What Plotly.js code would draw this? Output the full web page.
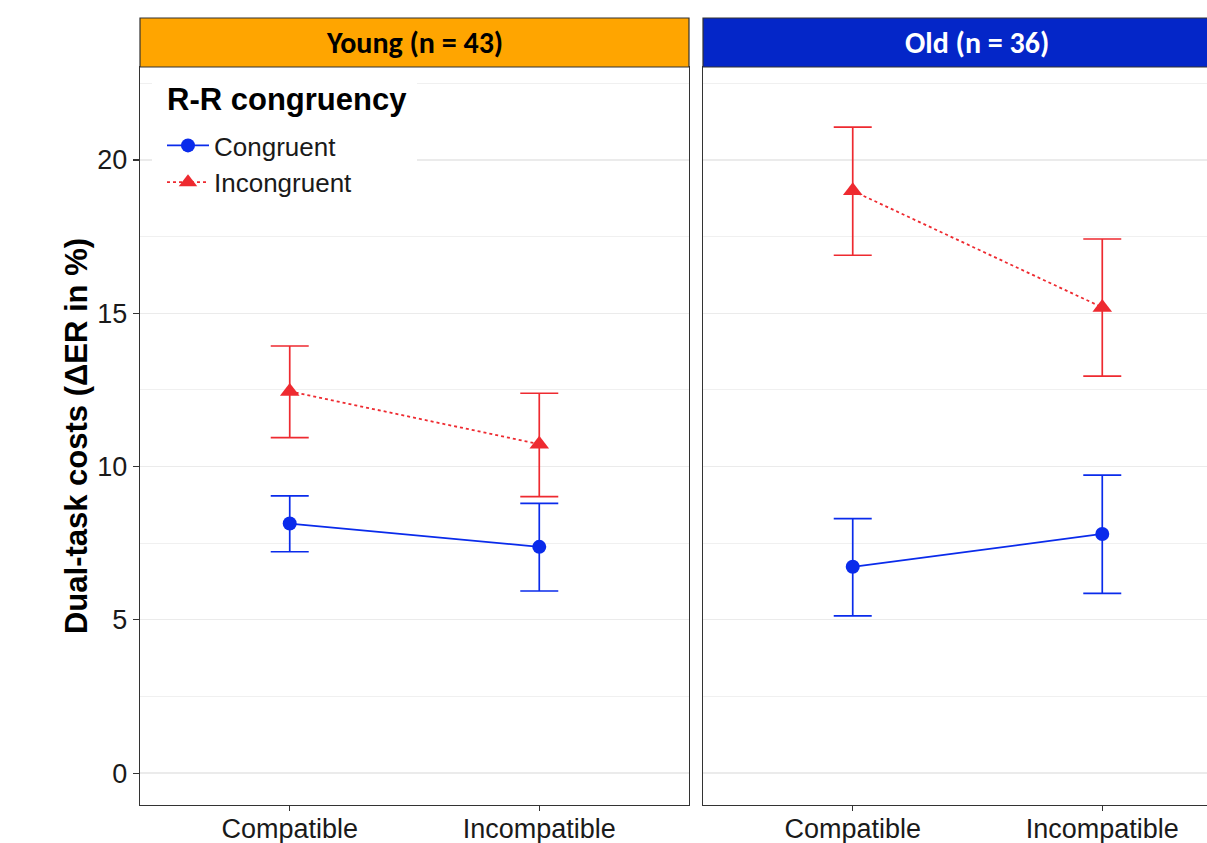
<!DOCTYPE html>
<html>
<head>
<meta charset="utf-8">
<script src="https://cdn.plot.ly/plotly-3.0.1.min.js"></script>
<style>
html,body{margin:0;padding:0;overflow:hidden;background:#fff;}
#chart{width:1260px;height:843px;}
</style>
</head>
<body>
<div id="chart"></div>
<script>
// ---- data ----
const categories = ["Compatible", "Incompatible"];
const groups = ["Young (n = 43)", "Old (n = 36)"];
const seriesNames = ["Congruent", "Incongruent"];
const legendTitle = "R-R congruency";

const youngCongruent = [8.14, 7.38];
const youngCongruentLo = [7.22, 5.94];
const youngCongruentHi = [9.04, 8.80];

const youngIncongruent = [12.45, 10.73];
const youngIncongruentLo = [10.94, 9.02];
const youngIncongruentHi = [13.93, 12.39];

const oldCongruent = [6.73, 7.80];
const oldCongruentLo = [5.13, 5.86];
const oldCongruentHi = [8.30, 9.72];

const oldIncongruent = [18.99, 15.19];
const oldIncongruentLo = [16.89, 12.95];
const oldIncongruentHi = [21.07, 17.42];

const yTicks = [0, 5, 10, 15, 20];

// ---- styles ----
const BLUE = "#0A2BEB";
const RED = "#EE2A30";
const FONT = "Liberation Sans, Arial, sans-serif";

function trace(name, y, lo, hi, xa, ya, isCong, showleg) {
  const col = isCong ? BLUE : RED;
  return {
    type: "scatter", mode: "lines+markers", name: name,
    x: categories, y: y, xaxis: xa, yaxis: ya,
    legendgroup: name, showlegend: showleg,
    line: {color: col, width: 1.8, dash: isCong ? "solid" : "dot"},
    marker: {color: col, size: isCong ? 14 : 17, symbol: isCong ? "circle" : "triangle-up"},
    error_y: {
      type: "data", symmetric: false,
      array: hi.map((v, i) => v - y[i]),
      arrayminus: lo.map((v, i) => y[i] - v),
      color: col, thickness: 1.7, width: 19
    }
  };
}

const data = [
  trace(seriesNames[0], youngCongruent, youngCongruentLo, youngCongruentHi, "x", "y", true, true),
  trace(seriesNames[1], youngIncongruent, youngIncongruentLo, youngIncongruentHi, "x", "y", false, true),
  trace(seriesNames[0], oldCongruent, oldCongruentLo, oldCongruentHi, "x2", "y2", true, false),
  trace(seriesNames[1], oldIncongruent, oldIncongruentLo, oldIncongruentHi, "x2", "y2", false, false)
];

const W = 1260, H = 843, L = 140, R = 8, T = 67, B = 38;
const pw = W - L - R, ph = H - T - B;
const d1 = [0, 549 / pw], d2 = [563 / pw, 1];
const stripTop = 1 + (T - 18) / ph;
const py = (pix) => (ph - (pix - T)) / ph;   // page pixel row -> paper y
const xRange = [-0.6, 1.6], yRange = [-1.04, 23.03];
// page pixel -> data coords of the left panel (for the legend background box)
const xd = (pix) => xRange[0] + (pix - L) / 549 * (xRange[1] - xRange[0]);
const yd = (pix) => yRange[1] - (pix - T) / ph * (yRange[1] - yRange[0]);

const xaxisBase = {
  type: "category", range: xRange, showgrid: false, zeroline: false,
  showline: true, mirror: true, linecolor: "#333", linewidth: 1.2,
  ticks: "outside", ticklen: 5, tickwidth: 1.2, tickcolor: "#333",
  ticklabelstandoff: -6,
  tickfont: {family: FONT, size: 27, color: "#1a1a1a"}
};
const yaxisBase = {
  range: yRange, tickvals: yTicks, zeroline: false,
  showgrid: true, gridcolor: "#EBEBEB", gridwidth: 1.3,
  minor: {tick0: 2.5, dtick: 5, showgrid: true, gridcolor: "#F0F0F0", gridwidth: 1},
  showline: true, mirror: true, linecolor: "#333", linewidth: 1.2,
  tickfont: {family: FONT, size: 27, color: "#1a1a1a"}
};

const layout = {
  width: W, height: H,
  margin: {l: L, r: R, t: T, b: B},
  paper_bgcolor: "#fff", plot_bgcolor: "#fff",
  font: {family: FONT},
  xaxis: Object.assign({}, xaxisBase, {domain: d1, anchor: "y"}),
  xaxis2: Object.assign({}, xaxisBase, {domain: d2, anchor: "y2"}),
  yaxis: Object.assign({}, yaxisBase, {
    domain: [0, 1], anchor: "x",
    ticks: "outside", ticklen: 6, tickwidth: 1.2, tickcolor: "#333",
    title: {text: "<b>Dual-task costs (\u0394ER in %)</b>", font: {family: FONT, size: 31, color: "#000"}, standoff: 0}
  }),
  yaxis2: Object.assign({}, yaxisBase, {domain: [0, 1], anchor: "x2", showticklabels: false, ticks: ""}),
  showlegend: true,
  legend: {
    x: 22 / pw, y: py(122), xanchor: "left", yanchor: "top",
    bgcolor: "rgba(255,255,255,0)", borderwidth: 0,
    font: {family: FONT, size: 26, color: "#1a1a1a"},
    tracegroupgap: 0, itemwidth: 42
  },
  shapes: [
    // legend background box (hides grid lines behind the legend)
    {type: "rect", xref: "x", yref: "y", x0: xd(152), x1: xd(417),
     y0: yd(200), y1: yd(72),
     fillcolor: "#fff", line: {width: 0}, layer: "between"},
    {type: "rect", xref: "paper", yref: "paper", x0: d1[0], x1: d1[1], y0: 1, y1: stripTop,
     fillcolor: "#FFA500", line: {color: "#333", width: 1.2}, layer: "above"},
    {type: "rect", xref: "paper", yref: "paper", x0: d2[0], x1: d2[1], y0: 1, y1: stripTop,
     fillcolor: "#0426C8", line: {color: "#333", width: 1.2}, layer: "above"}
  ],
  annotations: [
    {xref: "paper", yref: "paper", x: (d1[0] + d1[1]) / 2, y: (1 + stripTop) / 2,
     text: "<b>" + groups[0] + "</b>", showarrow: false, xanchor: "center", yanchor: "middle",
     font: {family: "Carlito, Lato, Open Sans, sans-serif", size: 30, color: "#000"}},
    {xref: "paper", yref: "paper", x: (d2[0] + d2[1]) / 2, y: (1 + stripTop) / 2,
     text: "<b>" + groups[1] + "</b>", showarrow: false, xanchor: "center", yanchor: "middle",
     font: {family: "Carlito, Lato, Open Sans, sans-serif", size: 30, color: "#fff"}},
    {xref: "paper", yref: "paper", x: 25 / pw, y: py(100),
     text: "<b>" + legendTitle + "</b>", showarrow: false, xanchor: "left", yanchor: "middle",
     font: {family: FONT, size: 31, color: "#000"}}
  ]
};

Plotly.newPlot("chart", data, layout, {displayModeBar: false, staticPlot: true});
</script>
</body>
</html>
